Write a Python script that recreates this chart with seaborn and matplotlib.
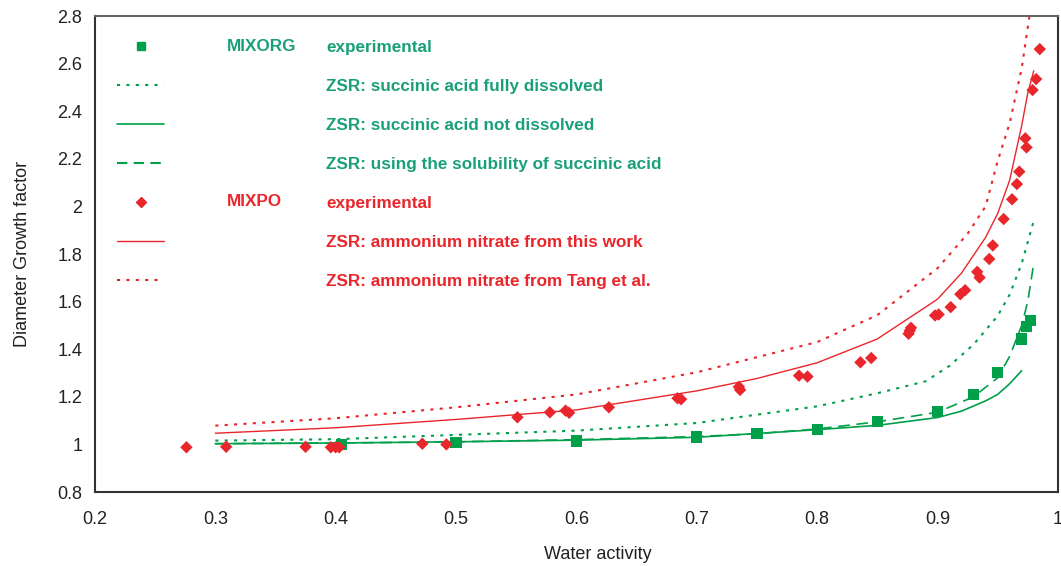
import numpy as np
import pandas as pd
import matplotlib
matplotlib.use('Agg')
import matplotlib.pyplot as plt
from matplotlib.lines import Line2D
import seaborn as sns

# experimental points
mixorg_aw = [0.405, 0.50, 0.60, 0.70, 0.75, 0.80, 0.85, 0.90, 0.93, 0.95, 0.97, 0.974, 0.977]
mixorg_gf = [1.0, 1.007, 1.014, 1.031, 1.045, 1.064, 1.096, 1.139, 1.21, 1.303, 1.443, 1.494, 1.519]

mixpo_aw = [0.276, 0.309, 0.375, 0.396, 0.400, 0.403, 0.472, 0.492, 0.551, 0.578, 0.591, 0.594,
            0.627, 0.684, 0.687, 0.735, 0.736, 0.785, 0.792, 0.836, 0.845, 0.876, 0.877, 0.878,
            0.898, 0.901, 0.911, 0.919, 0.923, 0.933, 0.935, 0.943, 0.946, 0.955, 0.962, 0.966,
            0.968, 0.973, 0.974, 0.979, 0.982, 0.985]
mixpo_gf = [0.988, 0.99, 0.99, 0.988, 0.988, 0.988, 1.003, 1.0, 1.114, 1.135, 1.142, 1.133,
            1.156, 1.194, 1.19, 1.242, 1.229, 1.289, 1.285, 1.345, 1.363, 1.465, 1.478, 1.49,
            1.542, 1.546, 1.577, 1.631, 1.648, 1.725, 1.701, 1.779, 1.836, 1.947, 2.03, 2.094,
            2.146, 2.286, 2.248, 2.489, 2.535, 2.661]

# ZSR model curves
zsr_full_aw = [0.30, 0.40, 0.50, 0.60, 0.70, 0.75, 0.80, 0.85, 0.89, 0.91, 0.93, 0.95, 0.96, 0.97, 0.98]
zsr_full_gf = [1.016, 1.022, 1.04, 1.058, 1.09, 1.125, 1.16, 1.215, 1.265, 1.33, 1.42, 1.54, 1.63, 1.76, 1.94]

zsr_not_aw = [0.30, 0.40, 0.50, 0.60, 0.70, 0.80, 0.85, 0.90, 0.92, 0.94, 0.95, 0.96, 0.97]
zsr_not_gf = [1.003, 1.006, 1.011, 1.018, 1.03, 1.062, 1.08, 1.113, 1.14, 1.183, 1.21, 1.255, 1.31]

zsr_sol_aw = [0.30, 0.40, 0.50, 0.60, 0.70, 0.75, 0.80, 0.85, 0.90, 0.93, 0.95, 0.96, 0.97, 0.975, 0.98]
zsr_sol_gf = [1.003, 1.006, 1.011, 1.02, 1.033, 1.045, 1.065, 1.095, 1.135, 1.2, 1.28, 1.37, 1.5, 1.6, 1.76]

zsr_an_aw = [0.30, 0.40, 0.50, 0.60, 0.70, 0.75, 0.80, 0.85, 0.90, 0.92, 0.94, 0.95, 0.96, 0.97, 0.975, 0.98]
zsr_an_gf = [1.047, 1.07, 1.105, 1.145, 1.225, 1.277, 1.343, 1.443, 1.61, 1.72, 1.87, 1.97, 2.11, 2.34, 2.475, 2.57]

zsr_tang_aw = [0.30, 0.40, 0.50, 0.60, 0.70, 0.80, 0.85, 0.90, 0.925, 0.94, 0.95, 0.96, 0.97, 0.977]
zsr_tang_gf = [1.079, 1.11, 1.156, 1.21, 1.303, 1.43, 1.543, 1.74, 1.885, 2.0, 2.19, 2.35, 2.58, 2.82]

green = '#00a04a'
green_txt = '#1aa078'
red = '#e8262b'

sns.set_style('white')
plt.rcParams['font.family'] = ['Liberation Sans', 'DejaVu Sans']

fig, ax = plt.subplots(figsize=(10.61, 5.66), dpi=100)
fig.subplots_adjust(left=0.0895, right=0.997, bottom=0.1307, top=0.9717)

dotted = (0, (1.5, 3))
sns.lineplot(x=zsr_full_aw, y=zsr_full_gf, color=green, lw=1.5, ls=dotted, ax=ax, estimator=None, sort=False)
sns.lineplot(x=zsr_not_aw, y=zsr_not_gf, color=green, lw=1.2, ax=ax, estimator=None, sort=False)
sns.lineplot(x=zsr_sol_aw, y=zsr_sol_gf, color=green, lw=1.2, ls=(0, (7, 4)), ax=ax, estimator=None, sort=False)
sns.lineplot(x=zsr_an_aw, y=zsr_an_gf, color=red, lw=1.0, ax=ax, estimator=None, sort=False)
sns.lineplot(x=zsr_tang_aw, y=zsr_tang_gf, color=red, lw=1.5, ls=dotted, ax=ax, estimator=None, sort=False)

sns.scatterplot(x=mixorg_aw, y=mixorg_gf, marker='s', s=65, color=green, edgecolor='none', ax=ax, zorder=5)
sns.scatterplot(x=mixpo_aw, y=mixpo_gf, marker='D', s=40, color=red, edgecolor='none', ax=ax, zorder=5)

ax.set_xlim(0.2, 1.0)
ax.set_ylim(0.8, 2.8)
ax.set_xticks(np.arange(0.2, 1.01, 0.1))
ax.set_xticklabels(['0.2', '0.3', '0.4', '0.5', '0.6', '0.7', '0.8', '0.9', '1'])
ax.set_yticks(np.arange(0.8, 2.81, 0.2))
ax.set_yticklabels(['0.8', '1', '1.2', '1.4', '1.6', '1.8', '2', '2.2', '2.4', '2.6', '2.8'])
ax.tick_params(axis='both', direction='out', length=5, width=1.2, color='#777777',
               labelsize=13, labelcolor='#222222')
ax.tick_params(axis='x', pad=9)
ax.tick_params(axis='y', pad=4)
for s in ax.spines.values():
    s.set_color('#333333')
    s.set_linewidth(1.5)
ax.spines['top'].set_color('#666666')

ax.set_xlabel('Water activity', fontsize=13, color='#222222')
ax.set_ylabel('Diameter Growth factor', fontsize=13, color='#222222')
ax.xaxis.set_label_coords(0.522, -0.113)
ax.yaxis.set_label_coords(-0.066, 0.5)

handles = [
    Line2D([], [], marker='s', color=green, ls='none', markersize=6),
    Line2D([], [], color=green, lw=1.5, ls=dotted),
    Line2D([], [], color=green, lw=1.2),
    Line2D([], [], color=green, lw=1.5, ls=(0, (5, 3))),
    Line2D([], [], marker='D', color=red, ls='none', markersize=5),
    Line2D([], [], color=red, lw=1.0),
    Line2D([], [], color=red, lw=1.5, ls=dotted),
]
labels = ['experimental',
          'ZSR: succinic acid fully dissolved',
          'ZSR: succinic acid not dissolved',
          'ZSR: using the solubility of succinic acid',
          'experimental',
          'ZSR: ammonium nitrate from this work',
          'ZSR: ammonium nitrate from Tang et al.']
leg = ax.legend(handles, labels, loc='upper left', bbox_to_anchor=(0.023, 0.95),
                frameon=False, borderpad=0, borderaxespad=0,
                handlelength=2.75, handletextpad=9.5, labelspacing=1.41,
                prop={'weight': 'bold', 'size': 12.3})
for i, t in enumerate(leg.get_texts()):
    t.set_color(green_txt if i < 4 else red)

ax.text(0.137, 0.937, 'MIXORG', transform=ax.transAxes, fontsize=12.3, fontweight='bold',
        color=green_txt, va='center', ha='left')
ax.text(0.137, 0.611, 'MIXPO', transform=ax.transAxes, fontsize=12.3, fontweight='bold',
        color=red, va='center', ha='left')

fig.savefig('out.png', dpi=100)
